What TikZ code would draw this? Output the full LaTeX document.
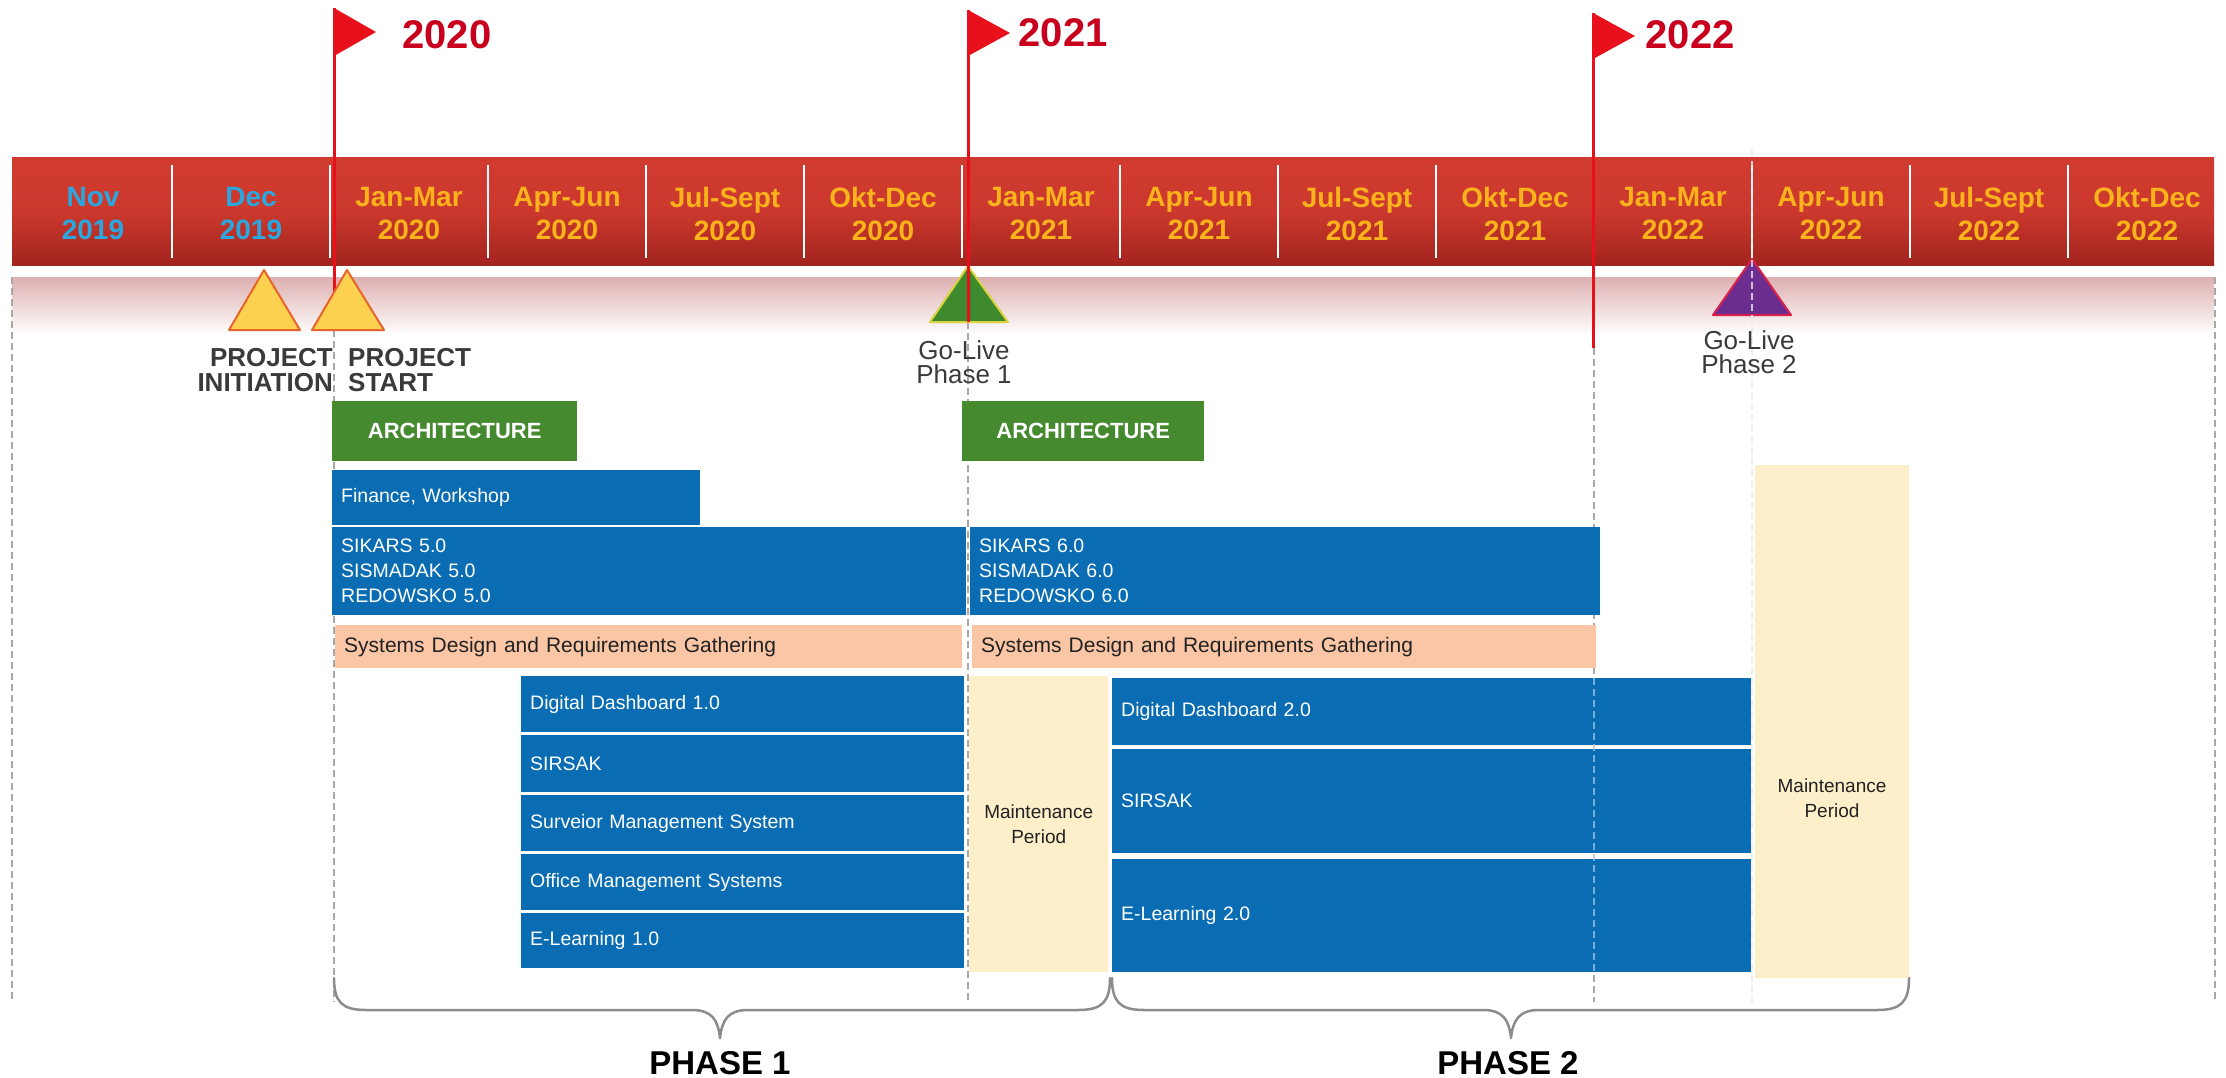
\documentclass[tikz,border=0pt]{standalone}
\usepackage{fontspec}
\setmainfont{Liberation Sans}
\definecolor{bandtop}{HTML}{D13B2F}
\definecolor{bandbot}{HTML}{A2241E}
\definecolor{shadowpink}{HTML}{DDB0B0}
\definecolor{monthorange}{HTML}{FBB31C}
\definecolor{novblue}{HTML}{2AA7DF}
\definecolor{flagred}{HTML}{E8101A}
\definecolor{yearred}{HTML}{C8001E}
\definecolor{barblue}{HTML}{0A6DB3}
\definecolor{archgreen}{HTML}{468A30}
\definecolor{peach}{HTML}{FAC6A6}
\definecolor{cream}{HTML}{FDEFC9}
\definecolor{darktext}{HTML}{222222}
\definecolor{lbltext}{HTML}{3A3A3A}
\definecolor{guidegray}{HTML}{A8A8A8}
\definecolor{bracegray}{HTML}{8C8C8C}
\definecolor{triyellow}{HTML}{FDD150}
\definecolor{triedge}{HTML}{E8642A}
\definecolor{trigreen}{HTML}{3F8A2F}
\definecolor{greenedge}{HTML}{D9D23C}
\definecolor{tripurple}{HTML}{6B2D8F}
\definecolor{purpleedge}{HTML}{D8204A}
\newcommand{\gbar}[7]{%
  \pgfmathsetmacro{\gbw}{#5-#3-18}%
  \pgfmathsetmacro{\gbh}{#6-#4}%
  \node[#2, anchor=north west, inner xsep=9pt, inner ysep=0pt,
        text width=\gbw pt, minimum height=\gbh pt] (#1) at (#3,#4) {#7};}
\begin{document}
\begin{tikzpicture}[x=1pt,y=-1pt,
  month/.style={font=\bfseries\fontsize{28}{33}\selectfont, align=center, inner sep=0pt},
  yearlbl/.style={font=\bfseries\fontsize{40}{44}\selectfont, text=yearred, inner sep=0pt},
  projlbl/.style={font=\bfseries\fontsize{26}{25}\selectfont, text=lbltext, inner sep=0pt},
  golbl/.style={font=\fontsize{26}{24}\selectfont, text=lbltext, align=center, inner sep=0pt},
  archbar/.style={fill=archgreen, text=white, font=\bfseries\fontsize{22}{24}\selectfont, align=center},
  bluebar/.style={fill=barblue, text=white, font=\fontsize{19.5}{25}\selectfont, align=left},
  peachbar/.style={fill=peach, text=darktext, font=\fontsize{21}{24}\selectfont, align=left},
  maintbar/.style={fill=cream, text=darktext, font=\fontsize{19}{25}\selectfont, align=center},
  maintlbl/.style={text=darktext, font=\fontsize{19}{25}\selectfont, align=center, inner sep=0pt},
  guideline/.style={draw=guidegray, dash pattern=on 7pt off 4pt, line width=1.5pt},
  phasebrace/.style={draw=bracegray, line width=2.5pt, line join=round, line cap=round},
  phaselbl/.style={font=\bfseries\fontsize{33}{36}\selectfont, text=black, inner sep=0pt},
  pole/.style={draw=flagred, line width=3pt}]
\useasboundingbox (0,0) rectangle (2226,1078);
\fill[white] (0,0) rectangle (2226,1078);

% timeline band
\shade[top color=bandtop, bottom color=bandbot, middle color=bandtop!88!bandbot] (12,158) rectangle (2214,265);
\shade[top color=shadowpink, bottom color=white] (12,277) rectangle (2214,335);
\foreach \k in {0,...,12}
  \draw[white, line width=2.5pt] ({172+158*\k},165) -- ({172+158*\k},258);

% month labels
\foreach \i/\ma/\yr/\col in {0/Nov/2019/novblue, 1/Dec/2019/novblue,
   2/Jan-Mar/2020/monthorange, 3/Apr-Jun/2020/monthorange, 4/Jul-Sept/2020/monthorange,
   5/Okt-Dec/2020/monthorange, 6/Jan-Mar/2021/monthorange, 7/Apr-Jun/2021/monthorange,
   8/Jul-Sept/2021/monthorange, 9/Okt-Dec/2021/monthorange, 10/Jan-Mar/2022/monthorange,
   11/Apr-Jun/2022/monthorange, 12/Jul-Sept/2022/monthorange, 13/Okt-Dec/2022/monthorange}
  \node[month, text=\col] (m\i) at ({93+158*\i},214) {\ma\\\yr};

% guide lines
\foreach \gx/\gy in {12/277, 334/330, 968/322, 1594/348, 2215/277}
  \draw[guideline] (\gx,\gy) -- (\gx,1002);

% bars
\gbar{arch1}{archbar}{332}{401}{577}{461}{ARCHITECTURE}
\gbar{arch2}{archbar}{962}{401}{1204}{461}{ARCHITECTURE}
\gbar{fin}{bluebar}{332}{470}{700}{525}{Finance, Workshop}
\gbar{sik5}{bluebar}{332}{527}{966}{615}{SIKARS 5.0\\SISMADAK 5.0\\REDOWSKO 5.0}
\gbar{sik6}{bluebar}{970}{527}{1600}{615}{SIKARS 6.0\\SISMADAK 6.0\\REDOWSKO 6.0}
\gbar{sys1}{peachbar}{335}{625}{962}{668}{Systems Design and Requirements Gathering}
\gbar{sys2}{peachbar}{972}{625}{1596}{668}{Systems Design and Requirements Gathering}
\gbar{dd1}{bluebar}{521}{676}{964}{732}{Digital Dashboard 1.0}
\gbar{sir1}{bluebar}{521}{735}{964}{792}{SIRSAK}
\gbar{surv}{bluebar}{521}{795}{964}{851}{Surveior Management System}
\gbar{office}{bluebar}{521}{854}{964}{910}{Office Management Systems}
\gbar{el1}{bluebar}{521}{913}{964}{968}{E-Learning 1.0}
\gbar{maint1}{maintbar}{969}{676}{1108}{972}{Maintenance\\Period}
\gbar{dd2}{bluebar}{1112}{678}{1751}{745}{Digital Dashboard 2.0}
\gbar{sir2}{bluebar}{1112}{749}{1751}{853}{SIRSAK}
\gbar{el2}{bluebar}{1112}{859}{1751}{972}{E-Learning 2.0}
\gbar{maint2}{maintbar}{1755}{465}{1909}{978}{}
\node[maintlbl] (maint2txt) at (1832,798) {Maintenance\\Period};

% faint guide over phase-2 bars
\draw[guideline, draw=white, opacity=0.45] (1594,678) -- (1594,972);

% flag poles behind triangles
\draw[pole] (334,8) -- (334,330);
\draw[pole] (1593,13) -- (1593,348);

% milestone triangles
\filldraw[fill=triyellow, draw=triedge, line width=2pt, line join=round] (264,270) -- (300,330) -- (229,330) -- cycle;
\filldraw[fill=triyellow, draw=triedge, line width=2pt, line join=round] (347,270) -- (384,330) -- (312,330) -- cycle;
\filldraw[fill=trigreen, draw=greenedge, line width=2pt, line join=round] (968,266) -- (1008,322) -- (930,322) -- cycle;
\filldraw[fill=tripurple, draw=purpleedge, line width=2pt, line join=round] (1752,259) -- (1791,315) -- (1713,315) -- cycle;

\draw[pole] (968,10) -- (968,322);
\draw[guideline, draw=white!75!guidegray, opacity=0.8] (1752,150) -- (1752,1002);

% flags
\fill[flagred] (334,8) -- (376,32) -- (334,56) -- cycle;
\fill[flagred] (968,10) -- (1010,33) -- (968,56) -- cycle;
\fill[flagred] (1593,13) -- (1635,36) -- (1593,59) -- cycle;
\node[yearlbl] (y2020) at (447,35) {2020};
\node[yearlbl] (y2021) at (1063,33) {2021};
\node[yearlbl] (y2022) at (1690,35) {2022};

% milestone labels
\node[projlbl, anchor=east, align=right] (pinit) at (333,370) {PROJECT\\INITIATION};
\node[projlbl, anchor=west, align=left] (pstart) at (348,370) {PROJECT\\START};
\node[golbl] (gl1) at (964,362) {Go-Live\\Phase 1};
\node[golbl] (gl2) at (1749,352) {Go-Live\\Phase 2};

% phase braces
\draw[phasebrace] (334,978) .. controls (334,1002) and (342,1010) .. (366,1010) -- (692,1010)
  .. controls (712,1010) and (718,1020) .. (720,1038)
  .. controls (722,1020) and (728,1010) .. (748,1010) -- (1078,1010)
  .. controls (1102,1010) and (1110,1002) .. (1110,978);
\draw[phasebrace] (1112,978) .. controls (1112,1002) and (1120,1010) .. (1144,1010) -- (1483,1010)
  .. controls (1503,1010) and (1509,1020) .. (1511,1038)
  .. controls (1513,1020) and (1519,1010) .. (1539,1010) -- (1877,1010)
  .. controls (1901,1010) and (1909,1002) .. (1909,978);
\node[phaselbl] (ph1) at (720,1063) {PHASE 1};
\node[phaselbl] (ph2) at (1508,1063) {PHASE 2};
\end{tikzpicture}
\end{document}
